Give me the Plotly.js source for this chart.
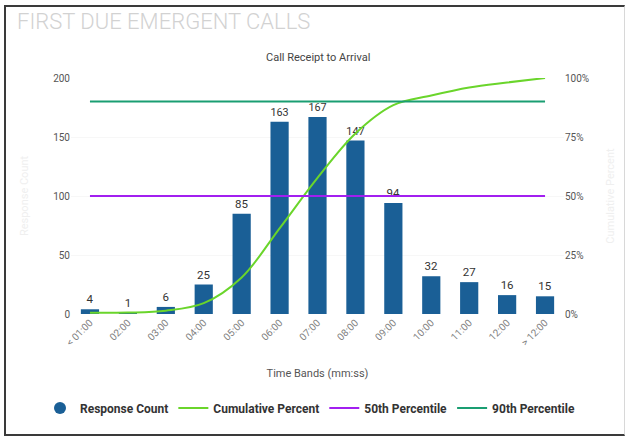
<!DOCTYPE html>
<html>
<head>
<meta charset="utf-8">
<script src="https://cdn.plot.ly/plotly-3.0.1.min.js"></script>
<style>
  html, body { margin: 0; padding: 0; background: #fff; }
  #wrap { position: relative; width: 630px; height: 436px; }
  #chart { width: 630px; height: 436px; }
  #frame { position: absolute; left: 4px; top: 5px; width: 618px; height: 427px;
           border-left: 2px solid #3a3a3a; border-top: 2px solid #3a3a3a;
           border-bottom: 2px solid #3a3a3a; border-right: 1px solid #d8d8d8;
           pointer-events: none; }
</style>
</head>
<body>
<div id="wrap">
  <div id="chart"></div>
  <div id="frame"></div>
</div>
<script>
const categories = ["< 01:00", "02:00", "03:00", "04:00", "05:00", "06:00", "07:00", "08:00", "09:00", "10:00", "11:00", "12:00", "> 12:00"];
const responseCount = [4, 1, 6, 25, 85, 163, 167, 147, 94, 32, 27, 16, 15];
const cumulativePercent = [0.5, 0.6, 1.4, 4.6, 15.5, 36.3, 57.7, 76.5, 88.5, 92.6, 96.0, 98.1, 100];
const percentileX = ["< 01:00", "> 12:00"];
const p50Values = [50, 50];
const p90Values = [90, 90];
const leftTicks = [0, 50, 100, 150, 200];
const rightTicks = [0, 25, 50, 75, 100];
const rightTickLabels = ["0%", "25%", "50%", "75%", "100%"];

const barColor = "#1a5f96";
const traces = [
  {
    type: "bar", x: categories, y: responseCount, name: "Response Count",
    marker: { color: barColor }, showlegend: false,
    text: responseCount.map(String), textposition: "outside", cliponaxis: false,
    textfont: { family: "Roboto, sans-serif", size: 11.5, color: "#333" }
  },
  {
    type: "scatter", mode: "markers", x: [null], y: [null], name: "Response Count",
    marker: { color: barColor, size: 12, symbol: "circle" }, showlegend: true
  },
  {
    type: "scatter", mode: "lines", x: categories, y: cumulativePercent, yaxis: "y2",
    name: "Cumulative Percent", line: { color: "#6ad52b", width: 2, shape: "spline", smoothing: 1 }
  },
  {
    type: "scatter", mode: "lines", x: percentileX, y: p50Values, yaxis: "y2",
    name: "50th Percentile", line: { color: "#a21ff0", width: 2 }
  },
  {
    type: "scatter", mode: "lines", x: percentileX, y: p90Values, yaxis: "y2",
    name: "90th Percentile", line: { color: "#1a9e72", width: 2 }
  }
];

const layout = {
  width: 630, height: 436,
  margin: { l: 71, r: 66, t: 78, b: 122, autoexpand: false },
  paper_bgcolor: "#fff", plot_bgcolor: "#fff",
  font: { family: "Roboto, sans-serif", color: "#555" },
  bargap: 0.52,
  title: {
    text: "FIRST DUE EMERGENT CALLS", xref: "container", yref: "container",
    x: 17 / 630, xanchor: "left", y: 1 - 21 / 436, yanchor: "middle",
    font: { family: "Roboto, sans-serif", size: 22, color: "#d2d2d2", weight: 300 }
  },
  annotations: [
    { text: "Call Receipt to Arrival", xref: "paper", yref: "paper", x: 0.5, y: 1 + 21 / 236,
      xanchor: "center", yanchor: "middle", showarrow: false,
      font: { family: "Roboto, sans-serif", size: 11, color: "#444" } }
  ],
  xaxis: {
    type: "category", tickangle: -45, showgrid: false, zeroline: false, showline: false,
    ticks: "", tickfont: { size: 10, color: "#808080" },
    title: { text: "Time Bands (mm:ss)", standoff: 22, font: { size: 11, color: "#555" } }
  },
  yaxis: {
    range: [0, 200], tickvals: leftTicks, showgrid: true, gridcolor: "#f7f7f7",
    zeroline: false, showline: false, ticks: "",
    tickfont: { size: 10, color: "#555" },
    title: { text: "Response Count", standoff: 22, font: { size: 11, color: "#efefef" } }
  },
  yaxis2: {
    overlaying: "y", side: "right", range: [0, 100], tickvals: rightTicks,
    ticktext: rightTickLabels, showgrid: false, zeroline: false, showline: false,
    ticks: "", tickfont: { size: 10, color: "#555" },
    title: { text: "Cumulative Percent", standoff: 18, font: { size: 11, color: "#efefef" } }
  },
  legend: {
    orientation: "h", xref: "paper", yref: "paper",
    x: (40 - 71) / 493, xanchor: "left", y: -(408 - 314) / 236, yanchor: "middle",
    font: { family: "Roboto, sans-serif", size: 12, color: "#333", weight: "bold" },
    itemwidth: 30, tracegroupgap: 0
  },
  showlegend: true
};

Plotly.newPlot("chart", traces, layout, { displayModeBar: false, staticPlot: true });
</script>
</body>
</html>
